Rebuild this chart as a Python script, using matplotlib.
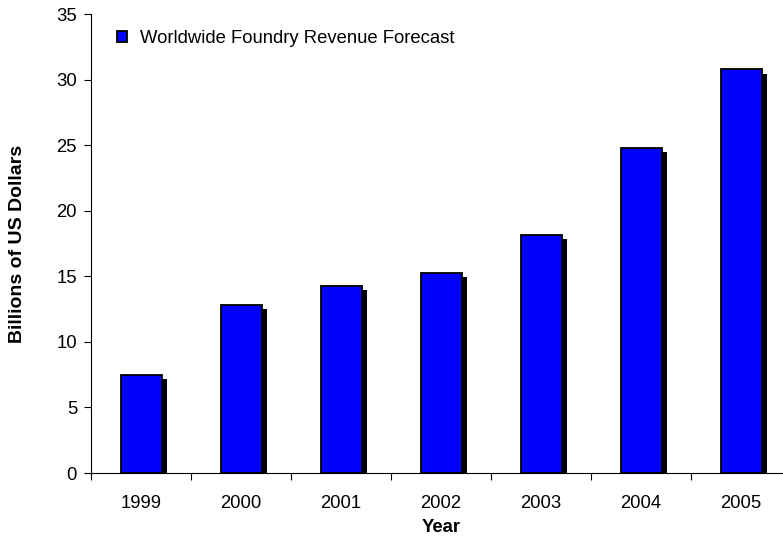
import matplotlib.pyplot as plt
import matplotlib.patheffects as pe
import numpy as np

plt.rcParams['font.family'] = ['Liberation Sans', 'DejaVu Sans']

years = ["1999", "2000", "2001", "2002", "2003", "2004", "2005"]
revenue = [7.5, 12.85, 14.3, 15.25, 18.15, 24.8, 30.8]
series_name = "Worldwide Foundry Revenue Forecast"

W, H = 783, 537
fig = plt.figure(figsize=(W / 100, H / 100), dpi=100)
ax = fig.add_axes([91 / W, (H - 473) / H, 700 / W, (473 - 14.4) / H])

x = np.arange(len(years))
# black drop shadow offset down-right behind each bar
shadow = pe.SimplePatchShadow(offset=(3.8, -3.0), shadow_rgbFace="black", alpha=1.0)
ax.bar(x, revenue, width=0.41, color="#0000ff", edgecolor="black", linewidth=1.3,
       label=series_name, path_effects=[shadow, pe.Normal()])

ax.set_xlim(-0.5, 6.5)
ax.set_ylim(0, 35)
ax.set_yticks(range(0, 36, 5))
ax.set_xticks(x)
ax.set_xticklabels(years)
# tick marks sit between the categories
ax.set_xticks(np.arange(-0.5, 7, 1), minor=True)
ax.tick_params(axis="x", which="major", length=0, pad=16, labelsize=13.3)
ax.tick_params(axis="x", which="minor", length=5, width=0.8, direction="out")
ax.tick_params(axis="y", length=5, width=0.8, direction="out", pad=5, labelsize=13.3)

for side in ("top", "right"):
    ax.spines[side].set_visible(False)
for side in ("left", "bottom"):
    ax.spines[side].set_linewidth(0.8)

ax.set_xlabel("Year", fontweight="bold", fontsize=13.3, labelpad=5)
ax.set_ylabel("Billions of US Dollars", fontweight="bold", fontsize=14)
ax.yaxis.set_label_coords(-65 / 700, 0.5)

leg = ax.legend(loc="upper left", bbox_to_anchor=(117 / W, (H - 30) / H),
                bbox_transform=fig.transFigure, frameon=False, borderpad=0,
                borderaxespad=0, fontsize=13.3, handlelength=0.54,
                handleheight=0.5, handletextpad=0.69)
for h in leg.legend_handles:
    h.set_path_effects([])

fig.savefig("out.png", dpi=100)
